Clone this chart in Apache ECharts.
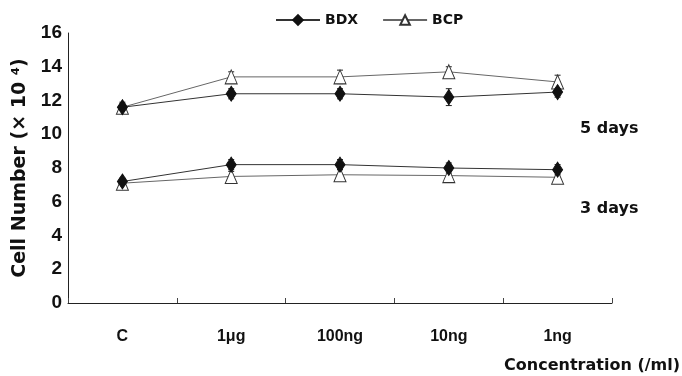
<!DOCTYPE html>
<html>
<head>
<meta charset="utf-8">
<script src="https://cdn.jsdelivr.net/npm/echarts@6/dist/echarts.min.js"></script>
<style>
  html, body { margin: 0; padding: 0; background: #fff; }
  #chart { width: 682px; height: 376px; }
</style>
</head>
<body>
<div id="chart"></div>
<script>
const categories = ['C', '1\u03bcg', '100ng', '10ng', '1ng']
const yTicks = [0, 2, 4, 6, 8, 10, 12, 14, 16]

// 5 days
const bdx5 = [11.6, 12.4, 12.4, 12.2, 12.5]
const bcp5 = [11.6, 13.4, 13.4, 13.7, 13.1]
const bdx5Err = [0.2, 0.3, 0.3, 0.5, 0.3]
const bcp5Err = [0.3, 0.3, 0.4, 0.3, 0.4]

// 3 days
const bdx3 = [7.2, 8.2, 8.2, 8.0, 7.9]
const bcp3 = [7.1, 7.5, 7.6, 7.55, 7.45]
const bdx3Err = [0.2, 0.3, 0.3, 0.3, 0.3]
const bcp3Err = [0.2, 0.3, 0.3, 0.3, 0.3]

const font = 'DejaVu Sans'
const narrow = '"Liberation Sans Narrow", "Liberation Sans"'

const errSeries = (vals, errs) => ({
  type: 'custom',
  silent: true,
  z: 1,
  data: vals.map((v, i) => [i, v - errs[i], v + errs[i]]),
  renderItem: (params, api) => {
    const lo = api.coord([api.value(0), api.value(1)])
    const hi = api.coord([api.value(0), api.value(2)])
    const w = 3
    return {
      type: 'group',
      children: [
        { type: 'line', shape: { x1: lo[0], y1: lo[1], x2: hi[0], y2: hi[1] }, style: { stroke: '#222', lineWidth: 1 } },
        { type: 'line', shape: { x1: lo[0] - w, y1: lo[1], x2: lo[0] + w, y2: lo[1] }, style: { stroke: '#222', lineWidth: 1 } },
        { type: 'line', shape: { x1: hi[0] - w, y1: hi[1], x2: hi[0] + w, y2: hi[1] }, style: { stroke: '#222', lineWidth: 1 } }
      ]
    }
  }
})

const bdxStyle = {
  type: 'line',
  name: 'BDX',
  symbol: 'diamond',
  symbolSize: [10, 15],
  z: 3,
  lineStyle: { color: '#333', width: 1 },
  itemStyle: { color: '#111', borderColor: '#111', borderWidth: 1 }
}
const bcpStyle = {
  type: 'line',
  name: 'BCP',
  symbol: 'triangle',
  symbolSize: [12, 14],
  z: 2,
  lineStyle: { color: '#666', width: 1 },
  itemStyle: { color: '#fff', borderColor: '#333', borderWidth: 1 }
}

const chart = echarts.init(document.getElementById('chart'))
chart.setOption({
  animation: false,
  textStyle: { fontFamily: font },
  legend: {
    data: ['BDX', 'BCP'],
    top: 8,
    left: 270,
    itemWidth: 44,
    itemHeight: 12,
    itemGap: 24,
    textStyle: { fontFamily: font, fontWeight: 'bold', fontSize: 14, color: '#111' }
  },
  grid: { left: 68, right: 70, top: 33, bottom: 73, containLabel: false },
  xAxis: {
    type: 'category',
    data: categories,
    boundaryGap: true,
    axisLine: { lineStyle: { color: '#222', width: 1 } },
    axisTick: { show: true, inside: true, length: 5, alignWithLabel: false, lineStyle: { color: '#444' } },
    axisLabel: { fontFamily: narrow, fontWeight: 'bold', fontSize: 16, color: '#111', margin: 26 }
  },
  yAxis: {
    type: 'value',
    min: 0,
    max: 16,
    interval: 2,
    name: 'Cell Number (\u00d7 10 \u2074)',
    nameLocation: 'middle',
    nameGap: 38,
    nameRotate: 90,
    nameTextStyle: { fontFamily: font, fontWeight: 'bold', fontSize: 19, color: '#111', verticalAlign: 'middle' },
    axisLine: { show: true, lineStyle: { color: '#222', width: 1 } },
    axisTick: { show: false },
    splitLine: { show: false },
    axisLabel: {
      fontFamily: narrow, fontWeight: 'bold', fontSize: 19, color: '#111', margin: 6,
      formatter: v => (yTicks.includes(v) ? String(v) : '')
    }
  },
  graphic: [
    { type: 'text', left: 580, top: 121, style: { text: '5 days', font: 'bold 16px ' + font, fill: '#111' } },
    { type: 'text', left: 580, top: 201, style: { text: '3 days', font: 'bold 16px ' + font, fill: '#111' } },
    { type: 'text', right: 2, top: 358, style: { text: 'Concentration (/ml)', font: 'bold 16px ' + font, fill: '#111' } }
  ],
  series: [
    errSeries(bdx5, bdx5Err),
    errSeries(bcp5, bcp5Err),
    errSeries(bdx3, bdx3Err),
    errSeries(bcp3, bcp3Err),
    Object.assign({}, bcpStyle, { data: bcp5 }),
    Object.assign({}, bdxStyle, { data: bdx5 }),
    Object.assign({}, bcpStyle, { data: bcp3 }),
    Object.assign({}, bdxStyle, { data: bdx3 })
  ]
})
</script>
</body>
</html>
